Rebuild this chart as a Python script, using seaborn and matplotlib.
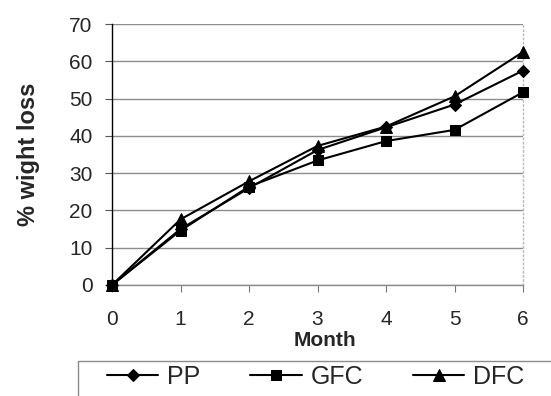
import matplotlib
matplotlib.use("Agg")
import matplotlib.pyplot as plt
from matplotlib.patches import Rectangle
import seaborn as sns
import pandas as pd

# Weight loss (%) over six months of storage for three treatments
months = [0, 1, 2, 3, 4, 5, 6]
pp = [0, 15.0, 26.0, 36.2, 42.3, 48.4, 57.5]
gfc = [0, 14.6, 26.4, 33.4, 38.6, 41.6, 51.7]
dfc = [0, 17.6, 27.8, 37.3, 42.5, 50.6, 62.5]
series_names = ["PP", "GFC", "DFC"]
y_ticks = [0, 10, 20, 30, 40, 50, 60, 70]

df = pd.DataFrame({
    "Month": months * 3,
    "loss": pp + gfc + dfc,
    "series": [s for s in series_names for _ in months],
})

sns.set_style("white")
plt.rcParams["font.family"] = ["Liberation Sans", "DejaVu Sans"]

W, H = 551, 396
fig = plt.figure(figsize=(W / 100, H / 100), dpi=100)
ax = fig.add_axes([112 / W, 1 - 285 / H, (523 - 112) / W, (285 - 24) / H])

markers = {"PP": "D", "GFC": "s", "DFC": "^"}
sizes = {"PP": 6.0, "GFC": 7.5, "DFC": 8.5}
for name in series_names:
    sub = df[df["series"] == name]
    sns.lineplot(data=sub, x="Month", y="loss", ax=ax, color="black",
                 marker=markers[name], markersize=sizes[name],
                 markeredgecolor="black", linewidth=1.5, label=name,
                 legend=False, clip_on=False, zorder=3)

ax.set_xlim(0, 6)
ax.set_ylim(0, 70)
ax.set_xticks(months)
ax.set_yticks(y_ticks)
ax.yaxis.grid(True, color="#8c8c8c", linewidth=1.0)
ax.xaxis.grid(False)
ax.set_axisbelow(True)

ax.spines["top"].set_visible(False)
ax.spines["left"].set_color("black")
ax.spines["left"].set_linewidth(1.0)
ax.spines["bottom"].set_color("#8c8c8c")
ax.spines["bottom"].set_linewidth(1.0)
ax.spines["right"].set_color("#bbbbbb")
ax.spines["right"].set_linestyle((0, (1, 2)))
ax.spines["right"].set_linewidth(1.0)

ax.tick_params(axis="y", direction="out", length=5, width=0.8, color="#555555",
               pad=9, labelsize=15, left=True)
ax.tick_params(axis="x", direction="out", length=5, width=0.8, color="#777777",
               pad=13, labelsize=15, bottom=True)

ax.set_xlabel("")
ax.set_ylabel("")
fig.text(325 / W, 1 - 340 / H, "Month", ha="center", va="center",
         fontsize=15, fontweight="bold")
fig.text(29 / W, 1 - 154 / H, "% wight loss", ha="center", va="center",
         rotation=90, fontsize=17, fontweight="bold")

# Legend frame running off the lower right edge
fig.patches.append(Rectangle((78 / W, -0.05), 1.0, (1 - 361 / H) + 0.05,
                             transform=fig.transFigure, fill=False,
                             edgecolor="#8c8c8c", linewidth=1.0))
handles, labels = ax.get_legend_handles_labels()
fig.legend(handles, labels, loc="center left",
           bbox_to_anchor=(107 / W, 1 - 377 / H), ncol=3, frameon=False,
           fontsize=18, handlelength=2.05, handletextpad=0.35,
           columnspacing=2.0, borderpad=0, borderaxespad=0)

fig.savefig("out.png", dpi=100)
